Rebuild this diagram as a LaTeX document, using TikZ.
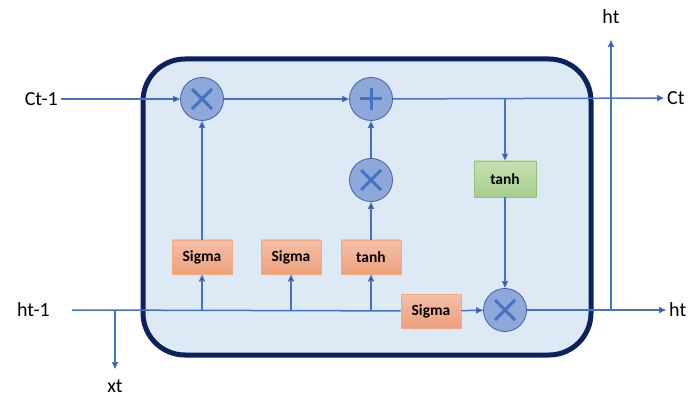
\documentclass[tikz,border=0pt]{standalone}
\usepackage{fontspec}
\setmainfont{Carlito}
\usetikzlibrary{arrows.meta}
\definecolor{cellfill}{RGB}{222,233,246}
\definecolor{celledge}{RGB}{12,33,94}
\definecolor{wire}{RGB}{68,114,196}
\definecolor{circfill}{RGB}{143,168,218}
\definecolor{circedge}{RGB}{62,96,168}
\definecolor{gateedge}{RGB}{242,170,130}
\definecolor{tanhedge}{RGB}{150,195,120}
\tikzset{
    ->, % Directed wires
    >={Triangle[length=7pt,width=6pt]}, % Small filled arrowheads
    wire/.style={-, draw=wire, line width=1.5pt, every edge/.append style={->}}, % Signal lines
    cell/.style={-, draw=celledge, fill=cellfill, line width=5pt, rounded corners=42pt}, % The LSTM cell
    symb/.style={-, draw=wire, line width=3pt}, % Sign inside an operator
    op/.style={circle, draw=circedge, fill=circfill, line width=0.8pt, minimum size=43pt, inner sep=0pt}, % Operator circles
    mult/.style={op, path picture={
        \draw[symb] ([shift={(-10pt,-10pt)}]path picture bounding box.center) -- ([shift={(10pt,10pt)}]path picture bounding box.center);
        \draw[symb] ([shift={(-10pt,10pt)}]path picture bounding box.center) -- ([shift={(10pt,-10pt)}]path picture bounding box.center);}},
    plus/.style={op, path picture={
        \draw[symb] ([shift={(-11pt,0pt)}]path picture bounding box.center) -- ([shift={(11pt,0pt)}]path picture bounding box.center);
        \draw[symb] ([shift={(0pt,-11pt)}]path picture bounding box.center) -- ([shift={(0pt,11pt)}]path picture bounding box.center);}},
    gate/.style={rectangle, draw=gateedge, line width=0.8pt, top color={rgb,255:red,245;green,192;blue,168}, bottom color={rgb,255:red,237;green,160;blue,122}, minimum width=60pt, minimum height=34pt, inner sep=0pt, font=\bfseries\fontsize{15.5}{18}\selectfont}, % Orange gate boxes
    squash/.style={gate, draw=tanhedge, top color={rgb,255:red,196;green,224;blue,178}, bottom color={rgb,255:red,166;green,206;blue,140}, minimum width=62pt, minimum height=36pt}, % Green tanh box
    lbl/.style={inner sep=3pt, font=\fontsize{20}{24}\selectfont}, % Outside labels
}

\begin{document}
\begin{tikzpicture}[x=1pt, y=-1pt]
    \useasboundingbox (0,0) rectangle (699,398);
    \draw[cell] (143,59) rectangle (591,355);

    % operators
    \node[mult] (m1) at (202,99) {};
    \node[plus] (add) at (371,99) {};
    \node[mult] (m2) at (371,180) {};
    \node[mult] (m3) at (505,310) {};

    % gates
    \node[gate] (s1) at (202,257) {Sigma};
    \node[gate] (s2) at (291,257) {Sigma};
    \node[gate] (t1) at (371,257) {tanh};
    \node[gate] (s3) at (431,311) {Sigma};
    \node[squash] (t2) at (505,179) {tanh};

    % labels
    \node[lbl, anchor=east] (cin) at (61,99) {Ct-1};
    \node[lbl, anchor=west] (cout) at (664,98) {Ct};
    \node[lbl, anchor=east] (hin) at (53,310) {ht-1};
    \node[lbl, anchor=west] (hout) at (666,310) {ht};
    \node[lbl] (htop) at (611,17) {ht};
    \node[lbl] (xt) at (115,386) {xt};

    % joints
    \coordinate (hstart) at (72,310);
    \coordinate (xj) at (115,310);
    \coordinate (xend) at (115,369);
    \coordinate (b1) at (202,310);
    \coordinate (b2) at (291,310);
    \coordinate (b3) at (371,310);
    \coordinate (tap) at (505,99);
    \coordinate (hj) at (611,310);
    \coordinate (hend) at (611,40);

    \path[wire]
        (cin) edge (m1)
        (m1) edge (add)
        (add) edge (cout)
        (tap) edge (t2)
        (t2) edge (m3)
        (m3) edge (hout)
        (hj) edge (hend)
        (hstart) edge[-] (s3)
        (s3) edge (m3)
        (xj) edge (xend)
        (b1) edge (s1)
        (b2) edge (s2)
        (b3) edge (t1)
        (s1) edge (m1)
        (t1) edge (m2)
        (m2) edge (add);
\end{tikzpicture}
\end{document}
